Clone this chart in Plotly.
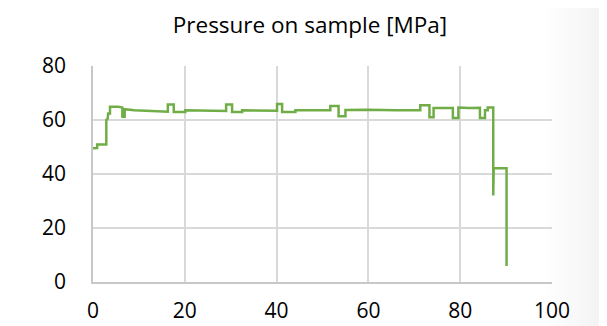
import plotly.graph_objects as go

# Time [s] and pressure [MPa] (step-like trace)
time_s = [0.0, 0.9, 0.9, 2.9, 2.9, 3.2, 3.3, 3.7, 3.7, 5.5, 6.4, 6.4, 6.9, 6.9, 9.0, 12.0, 16.3,
          16.3, 17.6, 17.6, 20.1, 20.1, 24.0, 29.0, 29.0, 30.3, 30.3, 32.5, 32.5, 36.0, 40.1,
          40.1, 41.2, 41.2, 44.1, 44.1, 48.0, 51.7, 51.7, 53.5, 53.5, 55.0, 55.0, 60.0, 66.0,
          71.3, 71.3, 73.3, 73.3, 74.2, 74.2, 76.5, 78.4, 78.4, 79.6, 79.6, 82.0, 84.3, 84.3,
          85.4, 85.4, 86.0, 86.0, 87.2, 87.2, 87.3, 87.3, 87.6, 87.6, 90.1, 90.1]
pressure_mpa = [49.5, 49.6, 50.9, 50.9, 60.0, 60.5, 62.4, 62.4, 64.9, 64.9, 64.6, 61.2, 61.2,
                64.0, 63.6, 63.3, 63.1, 65.7, 65.7, 63.0, 63.0, 63.6, 63.4, 63.3, 65.7, 65.7,
                63.0, 63.0, 63.6, 63.5, 63.4, 65.9, 65.9, 63.0, 63.0, 63.6, 63.7, 63.6, 65.2,
                65.2, 61.4, 61.4, 63.7, 63.8, 63.6, 63.6, 65.5, 65.5, 61.0, 61.0, 64.4, 64.3,
                64.4, 60.7, 60.7, 64.6, 64.4, 64.5, 60.7, 60.7, 63.6, 63.6, 64.6, 64.6, 32.0,
                32.0, 42.1, 42.1, 42.1, 42.1, 5.9]

x_ticks = [0, 20, 40, 60, 80, 100]
y_ticks = [0, 20, 40, 60, 80]

W, H = 607, 326
OFF = 8  # page body margin offset
FONT = "Open Sans"
L, R, T, B = 92.5 - OFF, 552 - OFF, 65.7 - OFF, 282 - OFF

fig = go.Figure()
fig.add_trace(go.Scatter(x=time_s, y=pressure_mpa, mode="lines",
                         line=dict(color="#70AD47", width=2.5), showlegend=False,
                         hoverinfo="skip"))

# subtle background gradient at the right edge
shapes = []
n = 14
x_start, x_end = 545 - OFF, 607 - OFF
for i in range(n):
    g = 255 - int(round(13 * (i + 1) / n))
    shapes.append(dict(type="rect", xref="paper", yref="paper", layer="below",
                       x0=(x_start + i * (x_end - x_start) / n - L) / (R - L),
                       x1=(x_start + (i + 1) * (x_end - x_start) / n - L) / (R - L) + 0.003,
                       y0=-1, y1=2, line=dict(width=0),
                       fillcolor=f"rgb({g},{g},{g})"))

fig.update_layout(
    width=W, height=H,
    margin=dict(l=L, r=W - R, t=T, b=H - B, pad=0, autoexpand=False),
    paper_bgcolor="white", plot_bgcolor="rgba(0,0,0,0)",
    font=dict(family=FONT, color="#000000", size=21),
    title=dict(text="Pressure on sample [MPa]", x=(310 - OFF) / W, xanchor="center",
               y=1 - (25 - OFF) / H, yanchor="middle",
               font=dict(family=FONT, size=22.5, color="#000")),
    shapes=shapes,
    xaxis=dict(range=[0, 100], tickvals=x_ticks, ticktext=[str(v) for v in x_ticks],
               showgrid=True, gridcolor="#D9D9D9", gridwidth=1.5, automargin=False,
               showline=True, linecolor="#C8C8C8", linewidth=1.5, mirror=False,
               zeroline=False, ticks="", ticklabelstandoff=9,
               tickfont=dict(family=FONT, size=21, color="#000")),
    yaxis=dict(range=[0, 80], tickvals=y_ticks, ticktext=[str(v) for v in y_ticks],
               showgrid=True, gridcolor="#D9D9D9", gridwidth=1.5, automargin=False,
               showline=True, linecolor="#C8C8C8", linewidth=1.5, mirror=False,
               zeroline=False, ticks="", ticklabelstandoff=21,
               tickfont=dict(family=FONT, size=21, color="#000")),
)
fig.write_html("out.html")
